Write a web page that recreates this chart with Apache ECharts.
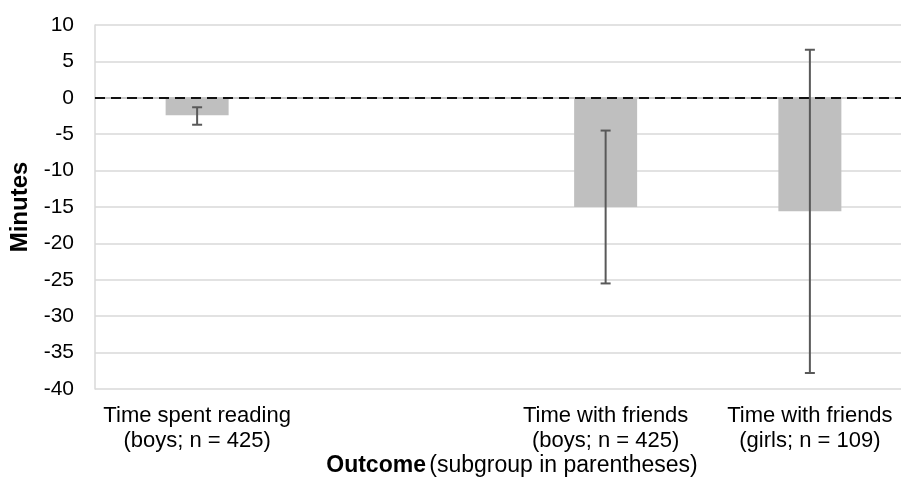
<!DOCTYPE html>
<html>
<head>
<meta charset="utf-8">
<script src="https://cdn.jsdelivr.net/npm/echarts@6/dist/echarts.min.js"></script>
<style>
html,body{margin:0;padding:0;background:#fff;overflow:hidden;width:901px;height:486px;}
#chart{width:912px;height:486px;}
</style>
</head>
<body>
<div id="chart"></div>
<script>
var categories = ['Time spent reading\n(boys; n = 425)', '', 'Time with friends\n(boys; n = 425)', 'Time with friends\n(girls; n = 109)'];
var values = [-2.4, null, -15.0, -15.6];
var errLow = [-3.7, null, -25.5, -37.8];
var errHigh = [-1.3, null, -4.5, 6.6];
var yMin = -40, yMax = 10, yStep = 5;

var errData = [];
for (var i = 0; i < categories.length; i++) {
  if (values[i] !== null) errData.push([i, errLow[i], errHigh[i]]);
}

var font = '"Liberation Sans", Arial, Helvetica, sans-serif';
var chart = echarts.init(document.getElementById('chart'));
chart.setOption({
  animation: false,
  backgroundColor: '#fff',
  grid: { left: 95, top: 25, right: 0, bottom: 97, containLabel: false },
  xAxis: {
    type: 'category',
    data: categories,
    boundaryGap: true,
    axisLine: { show: true, lineStyle: { color: '#bfbfbf', width: 1.5 } },
    axisTick: { show: false },
    axisLabel: { color: '#000', fontFamily: font, fontSize: 22, lineHeight: 25, margin: 14, interval: 0 },
    splitLine: { show: false }
  },
  yAxis: {
    type: 'value',
    min: yMin, max: yMax, interval: yStep,
    name: 'Minutes',
    nameLocation: 'middle',
    nameGap: 60,
    nameRotate: 90,
    nameTextStyle: { color: '#000', fontFamily: font, fontSize: 24, fontWeight: 'bold' },
    axisLine: { show: true, lineStyle: { color: '#d9d9d9', width: 1.5 } },
    axisTick: { show: false },
    axisLabel: { color: '#000', fontFamily: font, fontSize: 21, margin: 21 },
    splitLine: { show: true, lineStyle: { color: '#d9d9d9', width: 1.5 } }
  },
  graphic: [{
    type: 'text',
    x: 512,
    y: 466,
    style: {
      text: '{b|Outcome} {n|(subgroup in parentheses)}',
      align: 'center',
      verticalAlign: 'middle',
      rich: {
        b: { fontFamily: font, fontSize: 23, fontWeight: 'bold', fill: '#000' },
        n: { fontFamily: font, fontSize: 23, fill: '#000' }
      }
    }
  }],
  series: [
    {
      type: 'bar',
      data: values,
      barWidth: 63,
      itemStyle: { color: '#bfbfbf' },
      z: 2,
      markLine: {
        silent: true,
        symbol: ['none', 'none'],
        label: { show: false },
        lineStyle: { color: '#111', type: [10, 6], width: 2.2 },
        data: [{ yAxis: 0 }],
        z: 3
      }
    },
    {
      type: 'custom',
      data: errData,
      z: 5,
      renderItem: function (params, api) {
        var x = api.value(0);
        var lo = api.coord([x, api.value(1)]);
        var hi = api.coord([x, api.value(2)]);
        var hw = 5;
        var st = { stroke: '#595959', lineWidth: 2 };
        return {
          type: 'group',
          children: [
            { type: 'line', shape: { x1: lo[0], y1: lo[1], x2: hi[0], y2: hi[1] }, style: st },
            { type: 'line', shape: { x1: lo[0] - hw, y1: lo[1], x2: lo[0] + hw, y2: lo[1] }, style: st },
            { type: 'line', shape: { x1: hi[0] - hw, y1: hi[1], x2: hi[0] + hw, y2: hi[1] }, style: st }
          ]
        };
      }
    }
  ]
});
</script>
</body>
</html>
